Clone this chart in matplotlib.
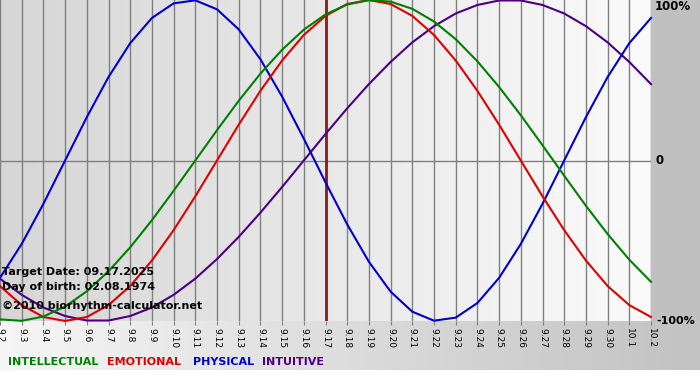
import matplotlib
matplotlib.use('Agg')
import matplotlib.pyplot as plt
import numpy as np

# day labels 9.2 .. 10.2
days = ['9.%d' % d for d in range(2, 31)] + ['10.1', '10.2']
target_idx = days.index('9.17')

# values (-1 .. 1), one per day
physical = [-0.731, -0.520, -0.270, 0.000, 0.270, 0.520, 0.731, 0.888, 0.979, 0.998,
            0.942, 0.817, 0.631, 0.398, 0.136, -0.136, -0.398, -0.631, -0.817, -0.942,
            -0.998, -0.979, -0.888, -0.731, -0.520, -0.270, 0.000, 0.270, 0.520, 0.731,
            0.888]
emotional = [-0.782, -0.901, -0.975, -1.000, -0.975, -0.901, -0.782, -0.623, -0.434, -0.223,
             0.000, 0.223, 0.434, 0.623, 0.782, 0.901, 0.975, 1.000, 0.975, 0.901,
             0.782, 0.623, 0.434, 0.223, 0.000, -0.223, -0.434, -0.623, -0.782, -0.901,
             -0.975]
intellectual = [-0.990, -0.999, -0.972, -0.910, -0.815, -0.690, -0.541, -0.372, -0.189, 0.000,
                0.189, 0.372, 0.541, 0.690, 0.815, 0.910, 0.972, 0.999, 0.990, 0.945,
                0.866, 0.756, 0.618, 0.458, 0.282, 0.095, -0.095, -0.282, -0.458, -0.618,
                -0.756]
intuitive = [-0.736, -0.837, -0.916, -0.969, -0.997, -0.997, -0.969, -0.916, -0.837, -0.736,
             -0.614, -0.476, -0.325, -0.165, 0.000, 0.165, 0.325, 0.476, 0.614, 0.736,
             0.837, 0.916, 0.969, 0.997, 0.997, 0.969, 0.916, 0.837, 0.736, 0.614,
             0.476]

W, H = 700, 380
PX, PY = 651, 321  # plot area size in pixels

fig = plt.figure(figsize=(7, 3.8), dpi=100)

# background layer in pixel coords
bg = fig.add_axes([0, 0, 1, 1])
bg.set_xlim(0, W)
bg.set_ylim(H, 0)
bg.axis('off')
grad = np.linspace(0, 1, 256).reshape(1, -1)
bg.imshow(grad, cmap=matplotlib.colors.LinearSegmentedColormap.from_list('b', ['#f6f6f6', '#c2c2c2']),
          extent=[0, W, 370, PY], aspect='auto')
bg.add_patch(plt.Rectangle((PX, 0), W - PX, PY, color='#c0c0c0', lw=0))

ax = fig.add_axes([0, 1 - PY / H, PX / W, PY / H])
ax.imshow(grad, cmap=matplotlib.colors.LinearSegmentedColormap.from_list('p', ['#d6d6d6', '#fbfbfb']),
          extent=[0, len(days) - 1, -1, 1], aspect='auto', zorder=0)
x = np.arange(len(days))
for xi in x:
    ax.axvline(xi, color='#808080', lw=1, zorder=1)
ax.axhline(0, color='#808080', lw=1, zorder=1)
ax.axvline(target_idx, color='#8b1a1a', lw=2, zorder=2)

ax.plot(x, intuitive, color='#4b0082', lw=1.5, zorder=3, clip_on=False)
ax.plot(x, physical, color='#0000cc', lw=1.5, zorder=3, clip_on=False)
ax.plot(x, emotional, color='#e00000', lw=1.5, zorder=3, clip_on=False)
ax.plot(x, intellectual, color='#008000', lw=1.5, zorder=3, clip_on=False)

ax.set_xlim(0, len(days) - 1)
ax.set_ylim(-1, 1)
ax.set_xticks(x)
ax.set_xticklabels(days, rotation=-90, fontsize=6.5)
ax.tick_params(axis='x', length=3, color='#808080', pad=2)
ax.set_yticks([])
for s in ax.spines.values():
    s.set_visible(False)


def ftext(px, py, s, **kw):
    fig.text(px / W, 1 - py / H, s, va='center', fontweight='bold', **kw)


ftext(655, 7, '100%', fontsize=8.5)
ftext(656, 161, '0', fontsize=8.5)
ftext(656, 321, '-100%', fontsize=8)

ftext(2, 272, 'Target Date: 09.17.2025', fontsize=8)
ftext(2, 287, 'Day of birth: 02.08.1974', fontsize=8)
ftext(2, 306, '\u00a92010 biorhythm-calculator.net', fontsize=8)

ftext(8, 362, 'INTELLECTUAL', fontsize=8, color='#008000')
ftext(107, 362, 'EMOTIONAL', fontsize=8, color='#e00000')
ftext(193, 362, 'PHYSICAL', fontsize=8, color='#0000cc')
ftext(262, 362, 'INTUITIVE', fontsize=8, color='#4b0082')

fig.savefig('out.png', dpi=100)
